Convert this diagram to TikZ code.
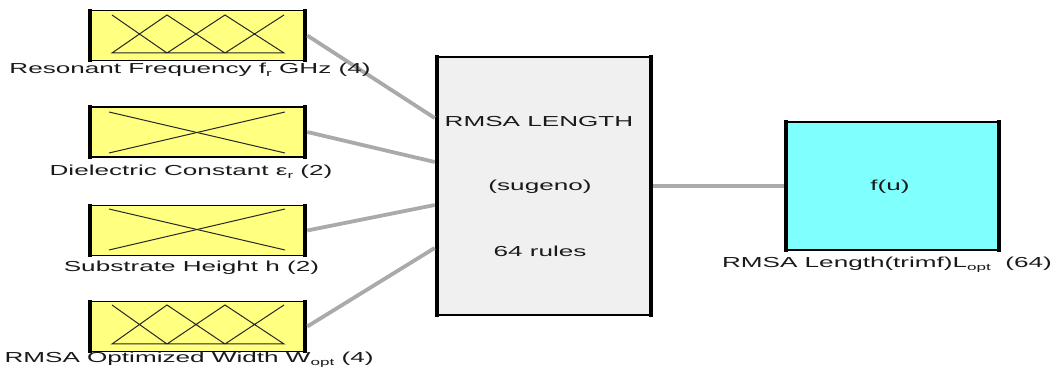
\documentclass[tikz,border=0pt]{standalone}
\usepackage{fontspec}
\setmainfont{Liberation Sans}
\newfontfamily\labfont[FakeStretch=1.8]{Liberation Sans}
\newcommand\sbs[1]{\raisebox{-0.45ex}{\fontsize{9.5}{9.5}\selectfont #1}}
\definecolor{mfyellow}{HTML}{FFFF80}
\definecolor{mfcyan}{HTML}{80FFFF}
\definecolor{fisgray}{HTML}{F0F0F0}
\definecolor{wire}{HTML}{AAAAAA}
\definecolor{txt}{HTML}{1A1A1A}
\tikzset{
  blk/.style={draw=black, line width=1.6pt, minimum width=213pt, minimum height=50pt, inner sep=0pt},
  inbox/.style={blk, fill=mfyellow},
  lbl/.style={font=\labfont\fontsize{14.5}{16.5}\selectfont, text=txt, inner sep=0pt},
  wireline/.style={draw=wire, line width=3.8pt},
  mfline/.style={draw=black!85, line width=1pt},
  side/.style={draw=black, line width=4.5pt}
}
\newcommand\thicksides[1]{%
  \draw[side] ([yshift=-0.8pt]#1.south west) -- ([yshift=0.8pt]#1.north west);
  \draw[side] ([yshift=-0.8pt]#1.south east) -- ([yshift=0.8pt]#1.north east);}
\begin{document}
\begin{tikzpicture}[x=1pt,y=-1pt]
\useasboundingbox (0,0) rectangle (1061,379);
% input boxes
\node[inbox] (b1) at (197.5,35.5) {};
\node[inbox] (b2) at (197.5,132) {};
\node[inbox] (b3) at (197.5,230.5) {};
\node[inbox] (b4) at (197.5,326.5) {};
\thicksides{b1}\thicksides{b2}\thicksides{b3}\thicksides{b4}
% middle and output
\node[blk, fill=fisgray, minimum width=212pt, minimum height=258pt] (mid) at (544,186) {};
\node[blk, fill=mfcyan, minimum width=211pt, minimum height=128pt] (out) at (892.5,186) {};
\thicksides{mid}\thicksides{out}
% connectors
\draw[wireline] ([xshift=2.5pt]b1.east) -- ([yshift=68pt,xshift=-2.5pt]mid.west);
\draw[wireline] ([xshift=2.5pt]b2.east) -- ([yshift=24pt,xshift=-2.5pt]mid.west);
\draw[wireline] ([xshift=2.5pt]b3.east) -- ([yshift=-19pt,xshift=-2.5pt]mid.west);
\draw[wireline] ([xshift=2.5pt]b4.east) -- ([yshift=-62pt,xshift=-2.5pt]mid.west);
\draw[wireline] ([xshift=2.5pt]mid.east) -- ([xshift=-2.5pt]out.west);
% membership functions, box 1 (4 MFs)
\draw[mfline] (112,15) -- (167,53) -- (225,15) -- (284,53) -- (112,53) -- (167,15) -- (225,53) -- (284,15);
% box 4 (4 MFs)
\draw[mfline] (112,305) -- (167,344) -- (225,305) -- (284,344) -- (112,344) -- (167,305) -- (225,344) -- (284,305);
% box 2 (2 MFs)
\draw[mfline] (109,112) -- (285,153);
\draw[mfline] (109,153) -- (285,112);
% box 3 (2 MFs)
\draw[mfline] (109,209) -- (285,250);
\draw[mfline] (109,250) -- (285,209);
% labels
\node[lbl] (l1) at (190,70) {Resonant Frequency f\sbs{r} GHz (4)};
\node[lbl] (l2) at (191,172) {Dielectric Constant ε\sbs{r} (2)};
\node[lbl] (l3) at (191.5,268) {Substrate Height h (2)};
\node[lbl] (l4) at (189,360) {RMSA Optimized Width W\sbs{opt} (4)};
\node[lbl] (l5) at (887,265) {RMSA Length(trimf)L\sbs{opt}\ \ (64)};
\node[lbl] (t1) at (539,122) {RMSA LENGTH};
\node[lbl] (t2) at (540,187) {(sugeno)};
\node[lbl] (t3) at (540,251) {64 rules};
\node[lbl] (t4) at (890,187) {f(u)};
\end{tikzpicture}
\end{document}
